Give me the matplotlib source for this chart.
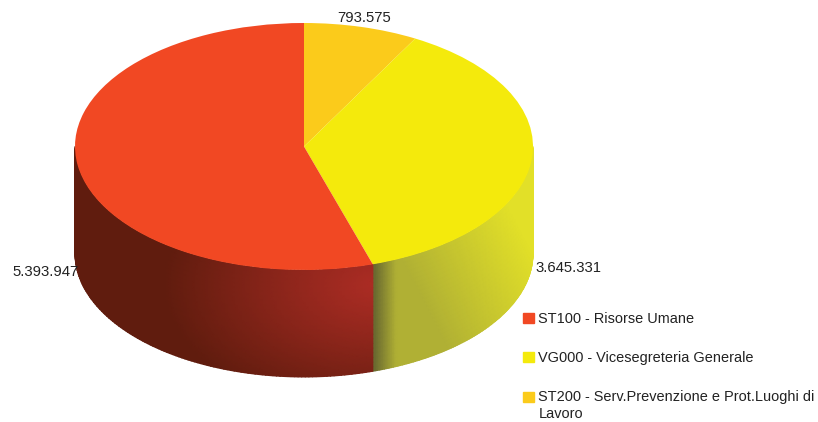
import numpy as np
import matplotlib
matplotlib.use("Agg")
import matplotlib.pyplot as plt
from matplotlib.patches import Patch, Rectangle
from matplotlib.legend_handler import HandlerPatch

plt.rcParams['font.family'] = ['Liberation Sans', 'DejaVu Sans']

W, H = 818, 422
categories = ["ST200 - Serv.Prevenzione e Prot.Luoghi di\nLavoro",
              "VG000 - Vicesegreteria Generale",
              "ST100 - Risorse Umane"]
values = [793575, 3645331, 5393947]
value_labels = ["793.575", "3.645.331", "5.393.947"]
colors = ["#FBCB1B", "#F4EA0C", "#F14823"]

CX, CY, RX, RY, DEPTH = 304, 146.5, 229, 123.5, 107

fig = plt.figure(figsize=(W / 100, H / 100), dpi=100)
ax = fig.add_axes([0, 0, 1, 1])
ax.pie(values, colors=colors, startangle=90, counterclock=False, radius=1,
       wedgeprops=dict(linewidth=0))
ax.set_aspect('auto')
ax.set_xlim(-CX / RX, (W - CX) / RX)
ax.set_ylim(-(H - CY) / RY, CY / RY)


def mix(a, b, t):
    t = np.clip(t, 0, 1)[..., None]
    a, b = np.array(a, float), np.array(b, float)
    return (a + (b - a) * t) / 255


def red_shade(px, py):
    d = np.hypot((px - 378) / 215, (py - 285) / 130)
    return mix((172, 44, 36), (96, 28, 14), d ** 1.1)


def yellow_shade(px, py):
    base = mix((176, 176, 52), (226, 224, 40),
               (px - 395) / 135 - (py - 250) / 260)
    dark = np.array((104, 104, 48)) / 255
    t = np.clip((px - 374) / 22, 0, 1)[..., None]
    return dark + (base - dark) * t


def draw_side(a0, a1, shade):
    th = np.radians(np.linspace(a0, a1, 120))
    z = np.linspace(0, 1, 24)
    T, Z = np.meshgrid(th, z)
    x = np.sin(T)
    y = np.cos(T) - Z * DEPTH / RY
    px = CX + x * RX
    py = CY - y * RY
    ax.pcolormesh(x, y, shade(px, py), shading='gouraud', zorder=1)


# clockwise angle from the top where each slice ends
ends = np.cumsum(values) / np.sum(values) * 360
draw_side(90, ends[1], yellow_shade)
draw_side(ends[1], 270, red_shade)

for t in ax.patches:
    t.set_zorder(3)


def raised_square(legend, orig_handle, xdescent, ydescent, width, height, fontsize):
    return Rectangle((-xdescent, -ydescent + 6.5), width, height)


handles = [Patch(color=colors[i], label=categories[i]) for i in (2, 1, 0)]
leg = ax.legend(handles=handles,
                handler_map={handles[2]: HandlerPatch(patch_func=raised_square)},
                loc='upper left', bbox_to_anchor=(519 / W, 1 - 308 / H),
                frameon=False, fontsize=10.45, labelcolor='#222222',
                handlelength=0.72, handleheight=0.72, handletextpad=0.32,
                labelspacing=1.7, borderpad=0.3, borderaxespad=0)
for t in leg.get_texts():
    t.set_linespacing(1.3)

label_px = [(337, 18), (535, 268), (12, 272)]
for s, (lx, ly) in zip(value_labels, label_px):
    ax.text(lx / W, 1 - ly / H, s, transform=ax.transAxes, fontsize=10.7,
            color='#222222', va='center', zorder=5)

ax.axis('off')
fig.savefig("out.png", dpi=100)
